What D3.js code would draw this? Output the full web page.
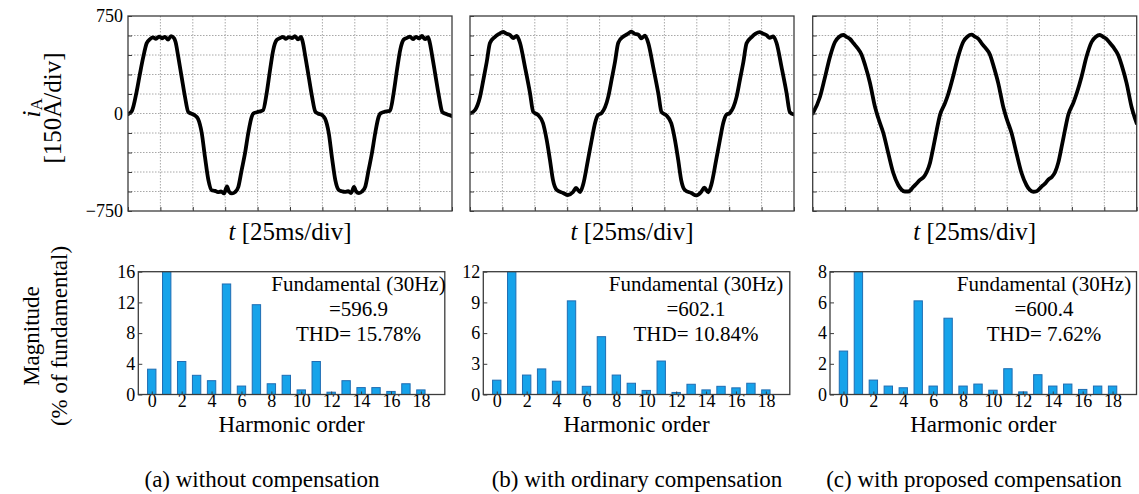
<!DOCTYPE html>
<html>
<head>
<meta charset="utf-8">
<script src="https://cdn.jsdelivr.net/npm/d3@7"></script>
<style>
  html, body { margin: 0; padding: 0; background: #fff; }
  svg { display: block; font-family: "Liberation Serif", "Times New Roman", serif; }
</style>
</head>
<body>
<div id="chart"></div>
<script>
// ---- data ----
// phase current i_A [A] vs time [ms], one series per case
const waveA = [
  [0,-5],[3,20],[6.7,170],[9.3,310],[11.8,435],[14.4,540],[17,572],[19.3,585],[21.6,575],[23.9,592],[26.2,578],[28.5,590],[30.9,568],[33.2,595],[35.5,580],[36.7,550],[38.8,435],[41.4,280],[44,127],[46.5,12],[48.6,0],[51.7,-15],[54,-40],[56.9,-150],[59.4,-335],[62,-511],[64.6,-590],[67.1,-595],[69.4,-605],[71.8,-600],[74.1,-615],[76.4,-560],[77.9,-600],[80.2,-615],[82.6,-605],[85.1,-565],[87.7,-435],[90.3,-305],[92.8,-150],[95.4,-27],[96.7,0],[99.5,10],[104.2,25],[107,157],[109.6,335],[112.1,490],[114.7,565],
  [117.3,580],[119.6,590],[121.9,575],[124.2,588],[126.5,580],[128.8,595],[131.2,570],[133.5,590],[134.7,555],[136.8,440],[139.4,285],[142,130],[144.5,15],[146.6,0],[149.7,-12],[152,-38],[154.9,-150],[157.4,-340],[160,-515],[162.6,-588],[165.1,-598],[167.4,-603],[169.8,-598],[172.1,-612],[174.4,-565],[175.9,-598],[178.2,-612],[180.6,-600],[183.1,-562],[185.7,-432],[188.3,-300],[190.8,-148],[193.4,-25],[194.7,0],[197.5,12],[202.2,22],[205,160],[207.6,338],[210.1,492],[212.7,568],
  [215.3,582],[217.6,592],[219.9,572],[222.2,590],[224.5,578],[226.8,596],[229.2,572],[231.5,588],[232.7,552],[234.8,438],[237.4,282],[240,128],[242.5,12],[244.6,0],[247.7,-12],[250,-20]
];
const waveB = [
  [0,0],[3.9,27],[7.7,127],[10.3,258],[12.9,396],[15.4,542],[19.3,590],[22.4,612],[25.5,628],[27.8,615],[30.9,604],[33.2,580],[36,596],[38.6,542],[42.4,358],[46.3,157],[48.8,12],[52.5,-12],[56.3,-73],[59.2,-204],[61.7,-358],[64,-511],[66.9,-588],[71.8,-611],[75.6,-627],[79.5,-604],[81.8,-573],[84.9,-604],[87.2,-550],[91,-358],[93.9,-204],[96.5,-73],[98.8,-12],[101.6,4],
  [106.7,130],[109.3,262],[111.9,398],[114.4,545],[118.3,592],[121.4,610],[124.5,630],[126.8,614],[129.9,606],[132.2,578],[135,598],[137.6,540],[141.4,355],[145.3,155],[147.8,10],[151.5,-14],[155.3,-75],[158.2,-206],[160.7,-360],[163,-514],[165.9,-590],[170.8,-612],[174.6,-630],[178.5,-602],[180.8,-570],[183.9,-606],[186.2,-548],[190,-355],[192.9,-200],[195.5,-70],[197.8,-10],[200.6,5],
  [205.7,128],[208.3,260],[210.9,394],[213.4,540],[217.3,588],[220.4,614],[223.5,626],[225.8,616],[228.9,602],[231.2,582],[234,594],[236.6,540],[240.4,356],[244.3,155],[246.8,10],[250,-8]
];
const waveC = [
  [0,0],[5.6,127],[9.5,280],[13.3,435],[17.2,550],[20.5,590],[23.6,604],[26,590],[28.8,573],[31.5,540],[34,511],[37.8,450],[40.4,373],[44.2,235],[48.1,50],[50.6,-35],[54.5,-150],[58.3,-305],[62.2,-458],[66,-550],[68.5,-585],[71.2,-600],[73.8,-600],[77.6,-565],[80,-540],[82.8,-511],[85.5,-490],[88,-450],[90.5,-381],[93.1,-258],[95.7,-127],[98.2,-12],
  [102.1,80],[104.6,150],[108.5,290],[112.3,440],[116.2,552],[119.5,592],[122.6,606],[125,592],[127.8,575],[130.5,538],[133,508],[136.8,452],[139.4,370],[143.2,232],[147.1,48],[149.6,-38],[153.5,-152],[157.3,-308],[161.2,-460],[165,-552],[167.5,-588],[170.2,-602],[172.8,-598],[176.6,-562],[179,-542],[181.8,-508],[184.5,-488],[187,-452],[189.5,-378],[192.1,-255],[194.7,-125],[197.2,-10],
  [201.1,82],[203.6,152],[207.5,285],[211.3,438],[215.2,550],[218.5,590],[221.6,604],[224,590],[226.8,572],[229.5,540],[232,510],[235.8,448],[238.4,372],[242.2,234],[246.1,48],[248.6,-36],[250,-75]
];

const timeGridMs = [0, 25, 50, 75, 100, 125, 150, 175, 200, 225, 250];
const currentGrid = [-750, -600, -450, -300, -150, 0, 150, 300, 450, 600, 750];
const currentLabels = { "750": "750", "0": "0", "-750": "\u2212750" };

// harmonic spectrum, % of fundamental (order 1 = fundamental, clipped)
const harmonicOrders = [0, 1, 2, 3, 4, 5, 6, 7, 8, 9, 10, 11, 12, 13, 14, 15, 16, 17, 18];
const harmonicTicks = [0, 2, 4, 6, 8, 10, 12, 14, 16, 18];
const magA = [3.3, 100, 4.3, 2.5, 1.8, 14.4, 1.1, 11.7, 1.4, 2.5, 0.6, 4.3, 0.3, 1.8, 0.9, 0.9, 0.4, 1.4, 0.6];
const magB = [1.4, 100, 1.9, 2.5, 1.3, 9.15, 0.8, 5.65, 1.9, 1.1, 0.4, 3.27, 0.2, 1.0, 0.45, 0.8, 0.65, 1.1, 0.45];
const magC = [2.83, 100, 0.94, 0.55, 0.44, 6.1, 0.55, 4.97, 0.55, 0.68, 0.28, 1.68, 0.17, 1.29, 0.55, 0.68, 0.33, 0.55, 0.55];
const magTicksA = [0, 4, 8, 12, 16];
const magTicksB = [0, 3, 6, 9, 12];
const magTicksC = [0, 2, 4, 6, 8];
const fundamentalText = ["=596.9", "=602.1", "=600.4"];
const thdText = ["THD= 15.78%", "THD= 10.84%", "THD= 7.62%"];
const captions = ["(a) without compensation", "(b) with ordinary compensation", "(c) with proposed compensation"];

(function () {
  const W = 1139, H = 494;
  const waveTop = 16, waveBottom = 211, waveWidth = 324;
  const waveLeft = [128, 470, 812.7];
  const barTop = 271.7, barBottom = 394.5, barWidth = 306.5;
  const barLeft = [138.3, 483.3, 830];
  const textCentre = [358.5, 696, 1044];
  const captionCentre = [262, 637, 974];
  const boxColour = "#3c3c3c";
  const barFill = "#16a3ea";
  const barEdge = "#1f6db3";

  const svg = d3.select("#chart").append("svg")
    .attr("width", W).attr("height", H)
    .attr("viewBox", `0 0 ${W} ${H}`);

  const defs = svg.append("defs");

  function drawWaveform(idx, data) {
    const x0 = waveLeft[idx];
    const x = d3.scaleLinear().domain([0, 250]).range([x0, x0 + waveWidth]);
    const y = d3.scaleLinear().domain([-750, 750]).range([waveBottom, waveTop]);
    const g = svg.append("g").attr("class", "wave-panel");

    defs.append("clipPath").attr("id", "wclip" + idx)
      .append("rect")
      .attr("x", x0).attr("y", waveTop)
      .attr("width", waveWidth).attr("height", waveBottom - waveTop);

    // dotted grid
    g.selectAll(null).data(currentGrid.slice(1, -1)).enter().append("line")
      .attr("x1", x0).attr("x2", x0 + waveWidth)
      .attr("y1", d => y(d)).attr("y2", d => y(d))
      .attr("stroke", "#a8a8a8").attr("stroke-width", 1)
      .attr("stroke-dasharray", "1.5,1.5");
    g.selectAll(null).data(timeGridMs.slice(1, -1)).enter().append("line")
      .attr("x1", d => x(d)).attr("x2", d => x(d))
      .attr("y1", waveTop).attr("y2", waveBottom)
      .attr("stroke", "#a8a8a8").attr("stroke-width", 1)
      .attr("stroke-dasharray", "1.5,1.5");

    // waveform
    g.append("path")
      .datum(data)
      .attr("clip-path", `url(#wclip${idx})`)
      .attr("fill", "none")
      .attr("stroke", "#000")
      .attr("stroke-width", 3.8)
      .attr("stroke-linejoin", "round")
      .attr("stroke-linecap", "round")
      .attr("d", d3.line().x(d => x(d[0])).y(d => y(d[1])).curve(d3.curveMonotoneX));

    // axes with inward ticks
    const yAxis = d3.axisLeft(y).tickValues(currentGrid).tickSize(-4).tickPadding(5)
      .tickFormat(d => (idx === 0 && currentLabels[String(d)]) || "");
    g.append("g").attr("transform", `translate(${x0},0)`).call(yAxis)
      .call(a => a.select(".domain").remove())
      .call(a => a.selectAll("line").attr("stroke", boxColour))
      .call(a => a.selectAll("text").attr("font-size", 18).attr("font-family", "Liberation Serif, serif").attr("fill", "#000"));

    const xAxis = d3.axisBottom(x).tickValues(timeGridMs).tickSize(-4).tickFormat("");
    g.append("g").attr("transform", `translate(0,${waveBottom})`).call(xAxis)
      .call(a => a.select(".domain").remove())
      .call(a => a.selectAll("line").attr("stroke", boxColour));

    g.append("rect")
      .attr("x", x0).attr("y", waveTop)
      .attr("width", waveWidth).attr("height", waveBottom - waveTop)
      .attr("fill", "none").attr("stroke", boxColour).attr("stroke-width", 1.3);

    const lbl = g.append("text")
      .attr("x", x0 + waveWidth / 2).attr("y", 240)
      .attr("text-anchor", "middle").attr("font-size", 25);
    lbl.append("tspan").attr("font-style", "italic").text("t");
    lbl.append("tspan").text(" [25ms/div]");
  }

  function drawSpectrum(idx, values, ticks) {
    const x0 = barLeft[idx];
    const x = d3.scaleLinear().domain([-0.9, 19.6]).range([x0, x0 + barWidth]);
    const y = d3.scaleLinear().domain([0, ticks[ticks.length - 1]]).range([barBottom, barTop]);
    const bw = (x(1) - x(0)) * 0.56;
    const g = svg.append("g").attr("class", "bar-panel");

    defs.append("clipPath").attr("id", "bclip" + idx)
      .append("rect")
      .attr("x", x0).attr("y", barTop)
      .attr("width", barWidth).attr("height", barBottom - barTop);

    const rows = harmonicOrders.map((h, i) => ({ order: h, value: values[i] }));
    g.append("g").attr("clip-path", `url(#bclip${idx})`)
      .selectAll("rect").data(rows).enter().append("rect")
      .attr("x", d => x(d.order) - bw / 2)
      .attr("width", bw)
      .attr("y", d => y(d.value))
      .attr("height", d => barBottom - y(d.value))
      .attr("fill", barFill)
      .attr("stroke", barEdge)
      .attr("stroke-width", 1);

    const yAxis = d3.axisLeft(y).tickValues(ticks).tickSize(-4).tickPadding(3);
    g.append("g").attr("transform", `translate(${x0},0)`).call(yAxis)
      .call(a => a.select(".domain").remove())
      .call(a => a.selectAll("line").attr("stroke", boxColour))
      .call(a => a.selectAll("text").attr("font-size", 18).attr("font-family", "Liberation Serif, serif").attr("fill", "#000"));

    const xAxis = d3.axisBottom(x).tickValues(harmonicTicks).tickSize(-3).tickPadding(0);
    g.append("g").attr("transform", `translate(0,${barBottom})`).call(xAxis)
      .call(a => a.select(".domain").remove())
      .call(a => a.selectAll("line").attr("stroke", boxColour))
      .call(a => a.selectAll("text").attr("font-size", 18).attr("font-family", "Liberation Serif, serif").attr("fill", "#000"));

    g.append("rect")
      .attr("x", x0).attr("y", barTop)
      .attr("width", barWidth).attr("height", barBottom - barTop)
      .attr("fill", "none").attr("stroke", boxColour).attr("stroke-width", 1.3);

    const note = ["Fundamental (30Hz)", fundamentalText[idx], thdText[idx]];
    g.selectAll(null).data(note).enter().append("text")
      .attr("x", textCentre[idx])
      .attr("y", (d, i) => 291 + i * 25)
      .attr("text-anchor", "middle")
      .attr("font-size", 21)
      .text(d => d);

    g.append("text")
      .attr("x", x0 + barWidth / 2).attr("y", 432)
      .attr("text-anchor", "middle").attr("font-size", 23)
      .text("Harmonic order");

    g.append("text")
      .attr("x", captionCentre[idx]).attr("y", 487)
      .attr("text-anchor", "middle").attr("font-size", 23)
      .text(captions[idx]);
  }

  function drawYLabels() {
    const top = svg.append("g").attr("transform", "translate(0,108)");
    const l1 = top.append("text")
      .attr("transform", "translate(40,0) rotate(-90)")
      .attr("text-anchor", "middle").attr("font-size", 26);
    l1.append("tspan").attr("font-style", "italic").text("i");
    l1.append("tspan").attr("font-size", 17).attr("dy", 2).text("A");
    top.append("text")
      .attr("transform", "translate(61,0) rotate(-90)")
      .attr("text-anchor", "middle").attr("font-size", 25)
      .text("[150A/div]");

    const bottom = svg.append("g").attr("transform", "translate(0,336)");
    bottom.append("text")
      .attr("transform", "translate(39,0) rotate(-90)")
      .attr("text-anchor", "middle").attr("font-size", 23)
      .text("Magnitude");
    bottom.append("text")
      .attr("transform", "translate(67,0) rotate(-90)")
      .attr("text-anchor", "middle").attr("font-size", 23)
      .text("(% of fundamental)");
  }

  drawWaveform(0, waveA);
  drawWaveform(1, waveB);
  drawWaveform(2, waveC);
  drawSpectrum(0, magA, magTicksA);
  drawSpectrum(1, magB, magTicksB);
  drawSpectrum(2, magC, magTicksC);
  drawYLabels();
})();
</script>
</body>
</html>
